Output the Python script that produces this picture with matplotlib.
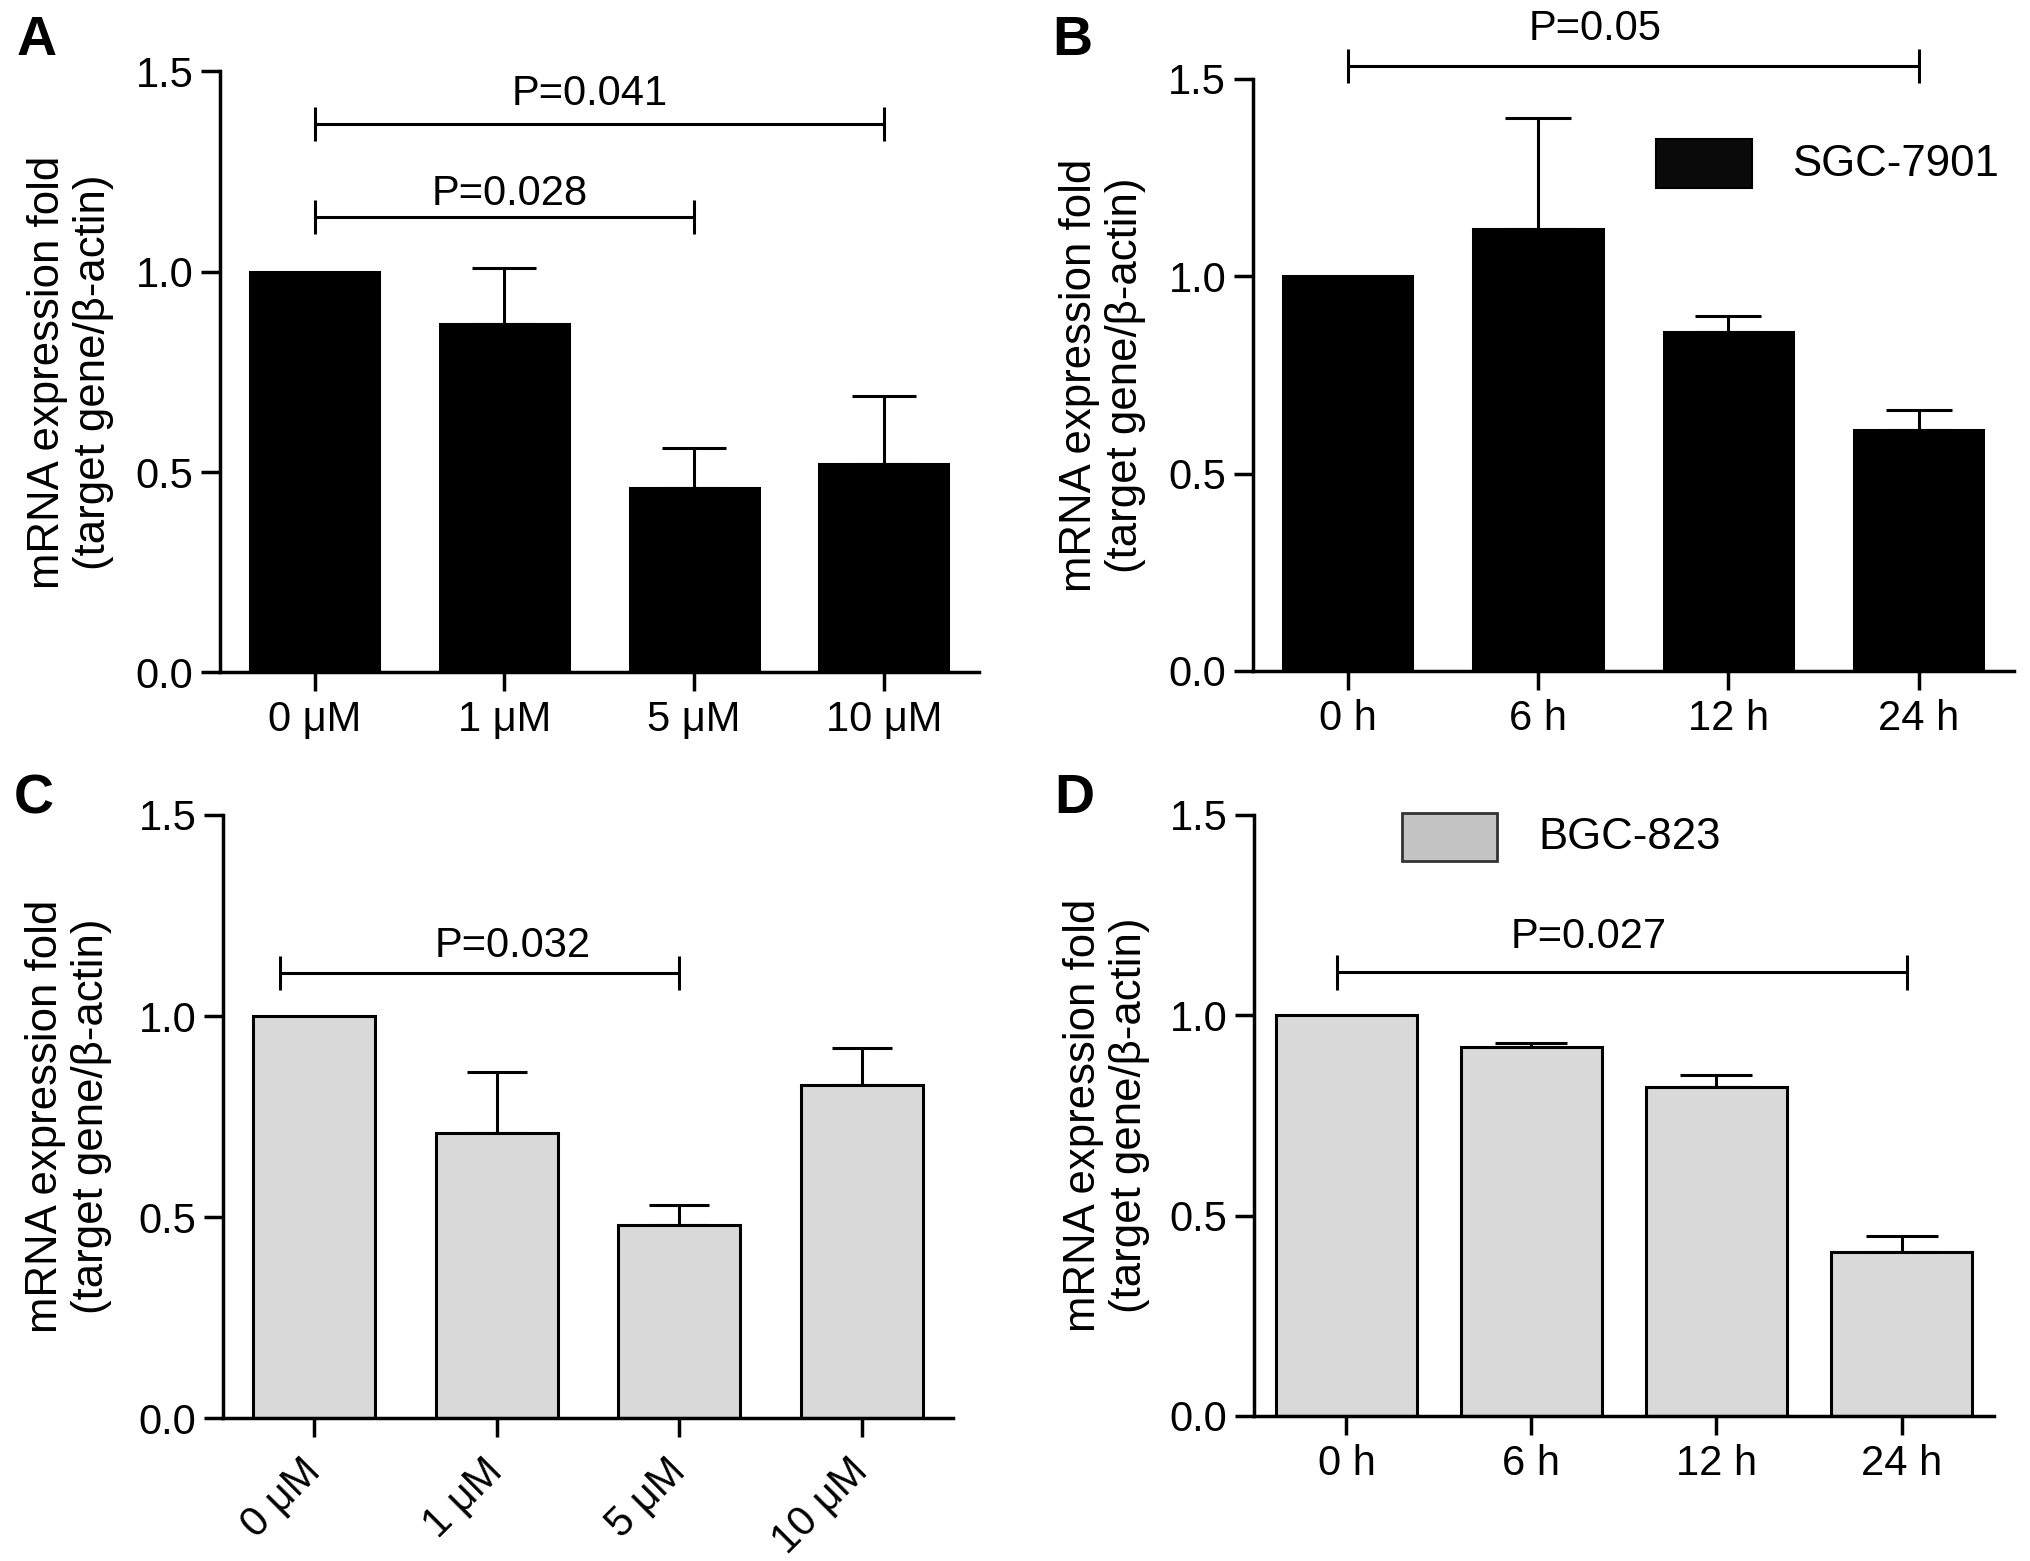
import numpy as np
import matplotlib
matplotlib.use("Agg")
import matplotlib.pyplot as plt
from matplotlib.patches import Rectangle

plt.rcParams['font.family'] = ['Liberation Sans', 'DejaVu Sans']

conc_labels = ['0 μM', '1 μM', '5 μM', '10 μM']
time_labels = ['0 h', '6 h', '12 h', '24 h']

# SGC-7901
a_mean = [1.00, 0.87, 0.46, 0.52]
a_err = [0.00, 0.14, 0.10, 0.17]
b_mean = [1.00, 1.12, 0.86, 0.61]
b_err = [0.00, 0.28, 0.04, 0.05]
# BGC-823
c_mean = [1.00, 0.71, 0.48, 0.83]
c_err = [0.00, 0.15, 0.05, 0.09]
d_mean = [1.00, 0.92, 0.82, 0.41]
d_err = [0.00, 0.01, 0.03, 0.04]

ylab = 'mRNA expression fold\n(target gene/β-actin)'
FS = 30
LW = 2.5

fig = plt.figure(figsize=(20.31, 15.61), dpi=100)
axA = fig.add_axes([0.1083, 0.5692, 0.3735, 0.385])
axB = fig.add_axes([0.6167, 0.5702, 0.3748, 0.3792])
axC = fig.add_axes([0.1098, 0.0913, 0.3594, 0.3866])
axD = fig.add_axes([0.6174, 0.0929, 0.3644, 0.385])


def bars(ax, labels, mean, err, color, width, capsize, labx):
    x = np.arange(len(labels))
    mean = np.array(mean)
    err = np.array(err)
    ax.bar(x, mean, width=width, color=color, edgecolor='black', linewidth=2.2, zorder=2)
    m = err > 0
    ax.errorbar(x[m], mean[m], yerr=[np.zeros(m.sum()), err[m]], fmt='none',
                ecolor='black', elinewidth=2.2, capsize=capsize, capthick=2.2, zorder=1)
    ax.set_xlim(-0.5, 3.5)
    ax.set_ylim(0, 1.5)
    ax.set_yticks([0, 0.5, 1.0, 1.5])
    ax.set_yticklabels(['0.0', '0.5', '1.0', '1.5'])
    ax.set_xticks(x)
    ax.set_xticklabels(labels)
    for s in ('top', 'right'):
        ax.spines[s].set_visible(False)
    for s in ('left', 'bottom'):
        ax.spines[s].set_linewidth(LW)
    ax.tick_params(axis='both', length=14, width=LW, labelsize=FS)
    ax.tick_params(axis='y', pad=5)
    ax.tick_params(axis='x', pad=6)
    ax.set_ylabel(ylab, fontsize=31.5, linespacing=1.15)
    ax.yaxis.set_label_coords(labx, 0.5)


def bracket(ax, x0, x1, y, label, tx, ty, dy=0.043):
    kw = dict(color='black', lw=2.2, clip_on=False, solid_capstyle='butt')
    ax.plot([x0, x1], [y, y], **kw)
    for xx in (x0, x1):
        ax.plot([xx, xx], [y - dy, y + dy], **kw)
    ax.text(tx, ty, label, ha='center', va='baseline', fontsize=FS, clip_on=False)


bars(axA, conc_labels, a_mean, a_err, 'black', 0.68, 23, -0.14)
bracket(axA, 0, 3, 1.369, 'P=0.041', 1.45, 1.416)
bracket(axA, 0, 2, 1.137, 'P=0.028', 1.03, 1.167)

bars(axB, time_labels, b_mean, b_err, 'black', 0.68, 24, -0.14)
bracket(axB, 0, 3, 1.532, 'P=0.05', 1.30, 1.599)
axB.add_patch(Rectangle((0.53, 0.815), 0.126, 0.084, transform=axB.transAxes,
                        facecolor='#0a0a0a', edgecolor='black', lw=1.5, clip_on=False))
axB.text(0.709, 0.855, 'SGC-7901', transform=axB.transAxes, ha='left', va='center', fontsize=31.5)

bars(axC, conc_labels, c_mean, c_err, '#d9d9d9', 0.67, 21.5, -0.152)
bracket(axC, -0.19, 2, 1.107, 'P=0.032', 1.09, 1.146)
for t in axC.get_xticklabels():
    t.set_rotation(45)
    t.set_ha('right')
    t.set_va('center')
    t.set_rotation_mode('anchor')
axC.tick_params(axis='x', pad=20)

bars(axD, time_labels, d_mean, d_err, '#d9d9d9', 0.765, 26, -0.141)
bracket(axD, -0.05, 3.03, 1.107, 'P=0.027', 1.31, 1.169)
axD.add_patch(Rectangle((0.2005, 0.923), 0.1285, 0.08, transform=axD.transAxes,
                        facecolor='#c4c4c4', edgecolor='#333333', lw=2.0, clip_on=False))
axD.text(0.384, 0.963, 'BGC-823', transform=axD.transAxes, ha='left', va='center', fontsize=31.5)

for lab, x, y in [('A', 0.018, 0.974), ('B', 0.528, 0.974), ('C', 0.0167, 0.488), ('D', 0.529, 0.488)]:
    fig.text(x, y, lab, fontsize=40, fontweight='bold', ha='center', va='center')

fig.savefig('out.png', dpi=100, facecolor='white')
